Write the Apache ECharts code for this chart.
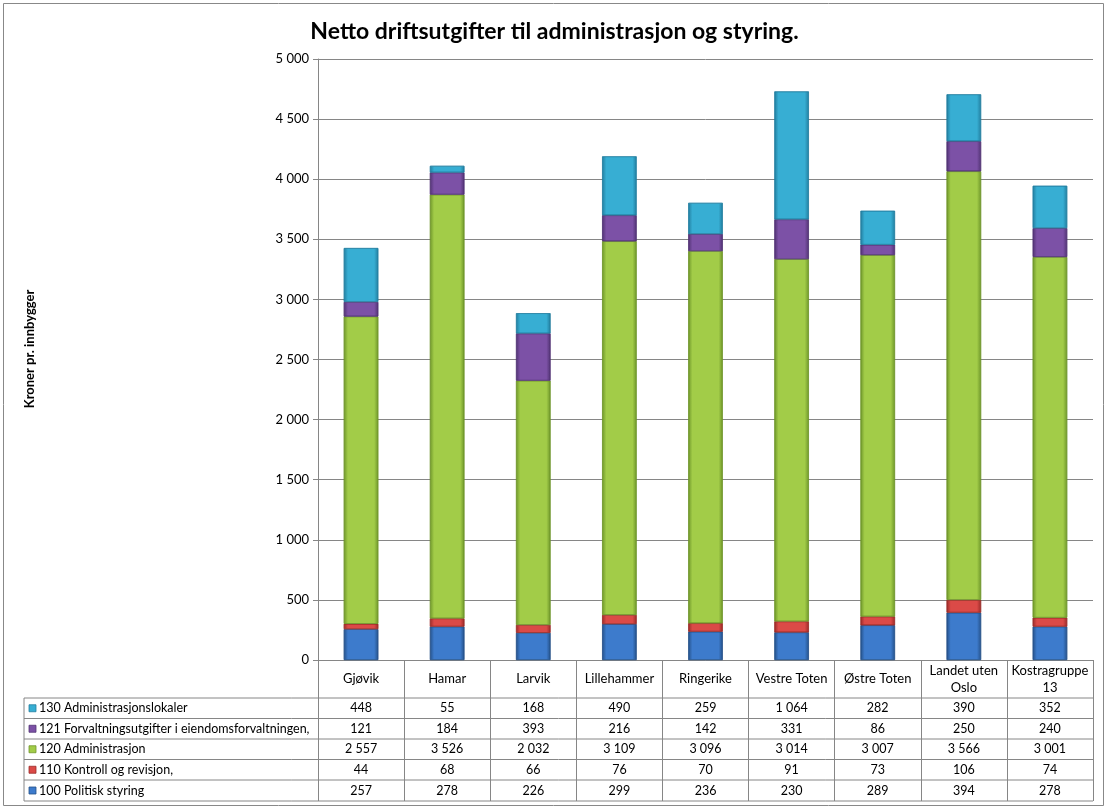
<!DOCTYPE html>
<html>
<head>
<meta charset="utf-8">
<script src="https://cdn.jsdelivr.net/npm/echarts@6/dist/echarts.min.js"></script>
<style>html,body{margin:0;padding:0;background:#fff}#c{width:1109px;height:811px}</style>
</head>
<body>
<div id="c"></div>
<script>
const categories = ['Gjøvik','Hamar','Larvik','Lillehammer','Ringerike','Vestre Toten','Østre Toten','Landet uten\nOslo','Kostragruppe\n13'];
const seriesNames = ['100 Politisk styring','110 Kontroll og revisjon,','120 Administrasjon','121 Forvaltningsutgifter i eiendomsforvaltningen,','130 Administrasjonslokaler'];
const s100 = [257,278,226,299,236,230,289,394,278];
const s110 = [44,68,66,76,70,91,73,106,74];
const s120 = [2557,3526,2032,3109,3096,3014,3007,3566,3001];
const s121 = [121,184,393,216,142,331,86,250,240];
const s130 = [448,55,168,490,259,1064,282,390,352];
const yMin = 0, yMax = 5000, yStep = 500;

const values = [s100,s110,s120,s121,s130];
const colors = [
  ['#255189','#3D7BCC','#255189'],
  ['#9A2B29','#DB4A47','#9A2B29'],
  ['#6E962A','#A2CC48','#6E962A'],
  ['#513373','#7C51A6','#513373'],
  ['#227E9F','#37AED3','#227E9F']
];
const font = 'Lato, "Open Sans", sans-serif';
const fmt = v => String(v).replace(/\B(?=(\d{3})+(?!\d))/g, ' ');

const G = {left:318, right:16, top:59, bottom:151};
const chart = echarts.init(document.getElementById('c'));

function grad(c){
  return new echarts.graphic.LinearGradient(0,0,1,0,[
    {offset:0,color:c[0]},{offset:0.12,color:c[1]},{offset:0.88,color:c[1]},{offset:1,color:c[2]}
  ]);
}

chart.setOption({
  animation:false,
  textStyle:{fontFamily:font},
  title:{text:'Netto driftsutgifter til administrasjon og styring.',left:'center',top:15,
    textStyle:{fontSize:23,fontWeight:'bold',color:'#000',fontFamily:font}},
  grid:G,
  xAxis:{type:'category',data:categories,
    axisLine:{lineStyle:{color:'#868686'}},
    axisTick:{show:true,length:141,lineStyle:{color:'#868686'}},
    axisLabel:{fontSize:13,color:'#000',margin:19,verticalAlign:'middle',lineHeight:17,interval:0}},
  yAxis:{type:'value',min:yMin,max:yMax,interval:yStep,
    axisLine:{show:true,lineStyle:{color:'#868686'}},
    axisTick:{show:true,length:5,lineStyle:{color:'#868686'}},
    splitLine:{lineStyle:{color:'#868686'}},
    axisLabel:{fontSize:13,color:'#000',margin:9,formatter:v=>fmt(v)}},
  series: values.map((d,k)=>({
    name:seriesNames[k],type:'bar',stack:'a',data:d,barWidth:'40%',
    itemStyle:{color:grad(colors[k]),borderColor:colors[k][0],borderWidth:0.6}
  }))
});

const rowsY = [698,718.5,739,759.5,780,801];
const tableLeft = 24, tableRight = 1093;
const gr = [];
gr.push({type:'rect',shape:{x:3.5,y:3.5,width:1100,height:802},style:{fill:null,stroke:'#888',lineWidth:1},silent:true});
rowsY.forEach(y=>gr.push({type:'line',shape:{x1:tableLeft,y1:y,x2:tableRight,y2:y},style:{stroke:'#868686',lineWidth:1}}));
gr.push({type:'line',shape:{x1:tableLeft,y1:rowsY[0],x2:tableLeft,y2:rowsY[5]},style:{stroke:'#868686',lineWidth:1}});
const order = [4,3,2,1,0];
order.forEach((k,r)=>{
  const cy = (rowsY[r]+rowsY[r+1])/2;
  gr.push({type:'rect',shape:{x:29,y:cy-3.5,width:7,height:7},style:{fill:colors[k][1],stroke:colors[k][0],lineWidth:0.8}});
  gr.push({type:'text',x:39,y:cy,style:{text:seriesNames[k],fontSize:12.5,fontFamily:font,fill:'#000',verticalAlign:'middle',align:'left'}});
  categories.forEach((c,i)=>{
    const px = chart.convertToPixel({xAxisIndex:0}, i);
    gr.push({type:'text',x:px,y:cy,style:{text:fmt(values[k][i]),fontSize:12.5,fontFamily:font,fill:'#000',verticalAlign:'middle',align:'center'}});
  });
});
gr.push({type:'text',x:30,y:349,rotation:Math.PI/2,style:{text:'Kroner pr. innbygger',fontSize:13,fontWeight:'bold',fontFamily:font,fill:'#000',align:'center',verticalAlign:'middle'}});
chart.setOption({graphic:gr});
</script>
</body>
</html>
